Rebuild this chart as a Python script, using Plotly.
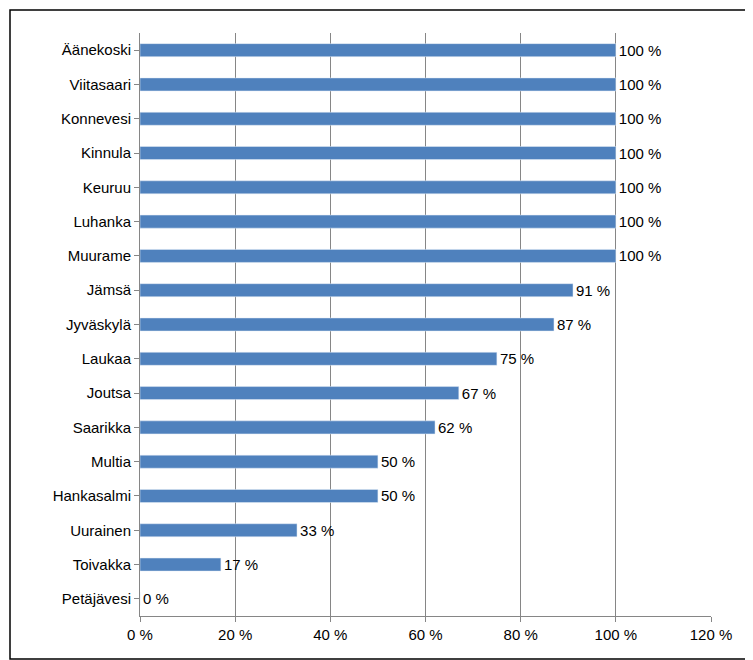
import plotly.graph_objects as go

categories = ["Äänekoski","Viitasaari","Konnevesi","Kinnula","Keuruu","Luhanka","Muurame",
              "Jämsä","Jyväskylä","Laukaa","Joutsa","Saarikka","Multia","Hankasalmi",
              "Uurainen","Toivakka","Petäjävesi"]
values = [100,100,100,100,100,100,100,91,87,75,67,62,50,50,33,17,0]
tick_vals = [0,20,40,60,80,100,120]
tick_text = [f"{v} %" for v in tick_vals]

fig = go.Figure(go.Bar(
    y=categories, x=values, orientation="h",
    marker=dict(color="#4F81BD"),
    text=[f"{v} %" for v in values], textposition="outside", constraintext="none",
    textfont=dict(size=15, color="black"), cliponaxis=False,
))
fig.update_layout(
    width=753, height=660, plot_bgcolor="white", paper_bgcolor="white",
    margin=dict(l=132, r=50, t=25, b=52),
    bargap=0.62, showlegend=False,
    font=dict(family="Liberation Sans, Arial", size=15, color="black"),
    xaxis=dict(range=[0,120], tickvals=tick_vals, ticktext=tick_text, automargin=False,
               showgrid=True, gridcolor="#868686", gridwidth=1, zeroline=False,
               showline=True, linecolor="#868686", ticks="outside", ticklen=5, tickcolor="#868686"),
    yaxis=dict(autorange="reversed", showline=True, linecolor="#868686", automargin=False,
               ticks="outside", ticklen=5, tickcolor="#868686"),
    shapes=[
        dict(type="rect", xref="paper", yref="paper", x0=-130/571, x1=(744-132)/571,
             y0=-43/583, y1=1+23/583, line=dict(color="black", width=1.5)),
    ],
)
fig.write_html("out.html")
